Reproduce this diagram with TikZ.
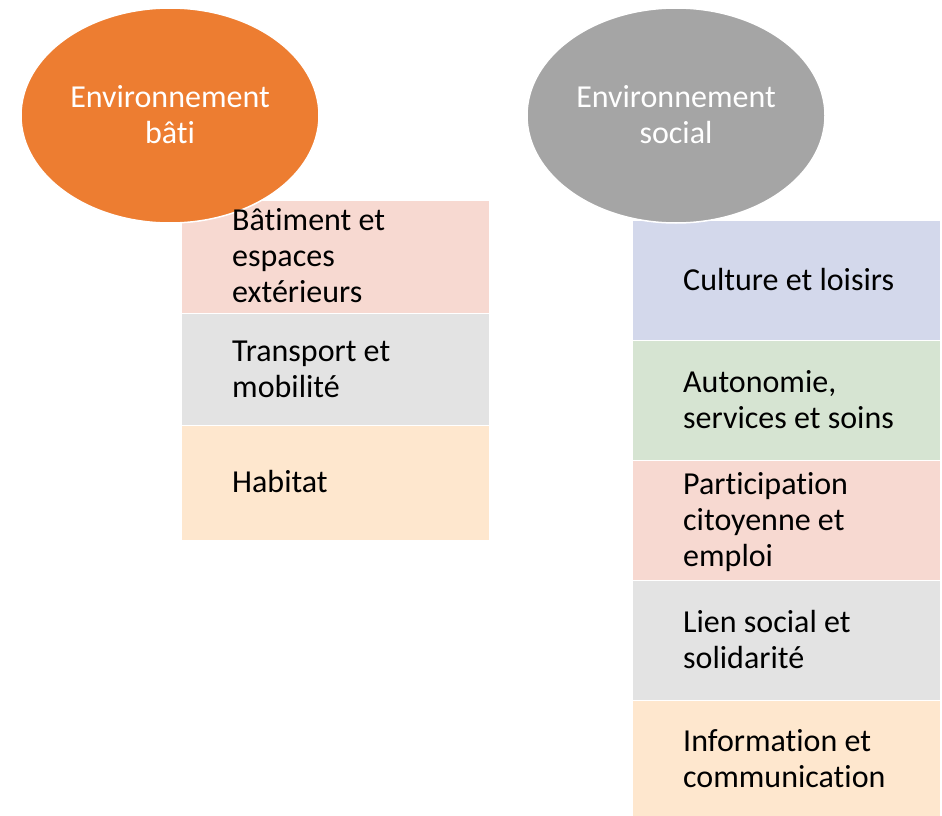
\documentclass[tikz,border=0pt]{standalone}
\usepackage{fontspec}
\setmainfont[Ligatures=NoCommon]{Carlito}
\usetikzlibrary{shapes.geometric}
\definecolor{orangeE}{HTML}{ED7D31}
\definecolor{grayE}{HTML}{A5A5A5}
\definecolor{pinkB}{HTML}{F7D9D1}
\definecolor{grayB}{HTML}{E3E3E3}
\definecolor{peachB}{HTML}{FEE7CE}
\definecolor{blueB}{HTML}{D3D8EB}
\definecolor{greenB}{HTML}{D6E4D2}
\newcommand{\leftlines}[1]{\vtop{\baselineskip=36pt\lineskiplimit=-100pt\halign{##\hfil\cr#1\crcr}}}
\newcommand{\ctrlines}[1]{\vtop{\baselineskip=36pt\lineskiplimit=-100pt\halign{\hfil##\hfil\cr#1\crcr}}}
\tikzset{
  ell/.style={ellipse, draw=white, line width=1.5pt, minimum width=298pt, minimum height=215pt, inner sep=0pt},
  ellt/.style={anchor=base, inner sep=0pt, text=white, font=\fontsize{32}{36}\selectfont},
  boxl/.style={rectangle, anchor=north west, draw=white, line width=0.6pt, minimum width=308pt, inner sep=0pt},
  tl/.style={anchor=base west, inner sep=0pt, text=black, font=\fontsize{32}{36}\selectfont}
}
\begin{document}
\begin{tikzpicture}[x=1pt,y=-1pt]
\useasboundingbox (0,0) rectangle (942,816);
% left boxes
\node[boxl, fill=pinkB, minimum height=113pt] (b1) at (181,200) {};
\node[boxl, fill=grayB, minimum height=112pt] (b2) at (181,313) {};
\node[boxl, fill=peachB, minimum height=115pt] (b3) at (181,425) {};
% right boxes
\node[boxl, fill=blueB, minimum height=120pt] (r1) at (632,220) {};
\node[boxl, fill=greenB, minimum height=120pt] (r2) at (632,340) {};
\node[boxl, fill=pinkB, minimum height=120pt] (r3) at (632,460) {};
\node[boxl, fill=grayB, minimum height=120pt] (r4) at (632,580) {};
\node[boxl, fill=peachB, minimum height=117pt] (r5) at (632,700) {};
% ellipses
\node[ell, fill=orangeE] (eb) at (170,115.5) {};
\node[ell, fill=grayE] (es) at (676,115.5) {};
\node[ellt] (ebt) at (170,107.5) {\ctrlines{Environnement\cr bâti}};
\node[ellt] (est) at (676,107.5) {\ctrlines{Environnement\cr social}};
% left texts
\node[tl] (t1) at (232,230.5) {\leftlines{Bâtiment et\cr espaces\cr extérieurs}};
\node[tl] (t2) at (232,361) {\leftlines{Transport et\cr mobilité}};
\node[tl] (t3) at (232,492.5) {\leftlines{Habitat}};
% right texts
\node[tl] (u1) at (683,290) {\leftlines{Culture et loisirs}};
\node[tl] (u2) at (683,392) {\leftlines{Autonomie,\cr services et soins}};
\node[tl] (u3) at (683,494) {\leftlines{Participation\cr citoyenne et\cr emploi}};
\node[tl] (u4) at (683,632) {\leftlines{Lien social et\cr solidarité}};
\node[tl] (u5) at (683,751) {\leftlines{Information et\cr communication}};
\end{tikzpicture}
\end{document}
